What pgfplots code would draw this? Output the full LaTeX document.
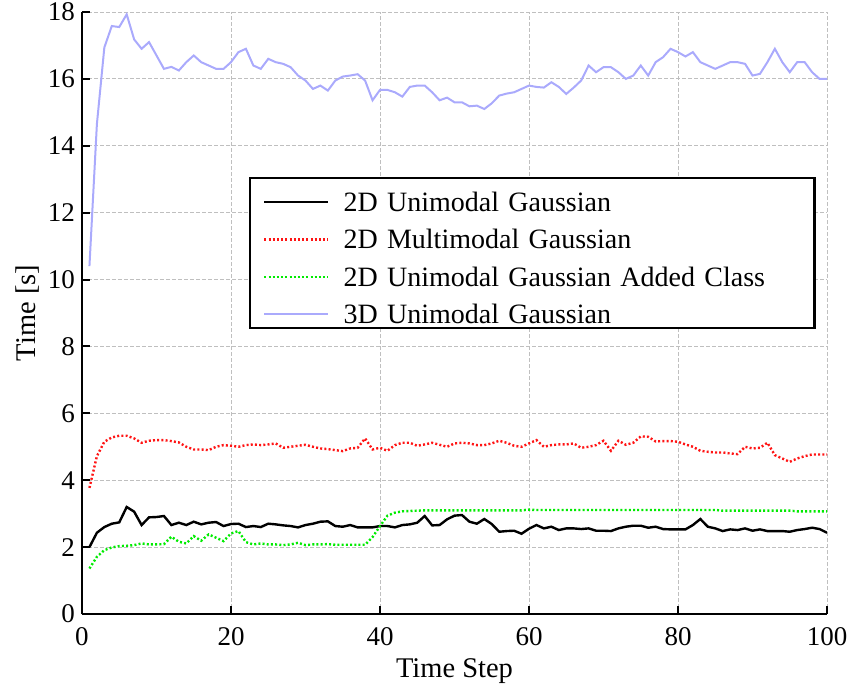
\documentclass[border=0pt]{standalone}
\usepackage{fontspec}
\setmainfont{Liberation Serif}
\usepackage{pgfplots}
\pgfplotsset{compat=1.18}
\definecolor{bluel}{RGB}{170,170,252}
\definecolor{greenl}{RGB}{0,235,0}
\definecolor{redl}{RGB}{255,20,20}
\begin{document}
\begin{tikzpicture}
\begin{axis}[
  at={(0,0)}, anchor=south west,
  scale only axis, width=745pt, height=602pt,
  xmin=0, xmax=100, ymin=0, ymax=18,
  xtick={0,20,40,60,80,100},
  ytick={0,2,4,6,8,10,12,14,16,18},
  axis x line=bottom, axis y line=left,
  axis line style={-, line width=2.4pt, black},
  tick align=inside, major tick length=8pt,
  tick style={line width=2pt, black},
  grid=major,
  major grid style={gray!50, line width=0.9pt, dash pattern=on 4pt off 2pt},
  /pgf/number format/assume math mode=true,
  tick label style={font=\fontsize{27}{30}\selectfont},
  xticklabel style={anchor=base, yshift=-31pt, inner sep=0pt},
  yticklabel style={anchor=east, inner sep=0pt, xshift=-7pt},
  xlabel={Time Step}, ylabel={Time [s]},
  label style={font=\fontsize{28.5}{32}\selectfont},
  xlabel style={at={(axis description cs:0.5,-0.1063)}, anchor=base, inner sep=0pt},
  ylabel style={at={(axis description cs:-0.0725,0.5)}, anchor=center, rotate=0, inner sep=0pt},
  legend style={at={(axis description cs:0.2242,0.7259)}, anchor=north west,
    draw=black, line width=2.2pt, fill=white,
    font=\fontsize{28}{32}\selectfont,
    inner xsep=13pt, inner ysep=0pt, row sep=0pt, column sep=14pt,
    nodes={inner sep=0pt, text height=33pt, text depth=4.5pt, text width=458pt, align=left}},
  legend cell align=left,
  legend image code/.code={\draw[#1] (0pt,-5pt) -- (64pt,-5pt);},
]
\addplot[black, line width=2.4pt] coordinates {
(1,2.0)(2,2.43)(3,2.6)(4,2.7)(5,2.74)(6,3.2)(7,3.06)(8,2.66)(9,2.89)(10,2.9)
(11,2.93)(12,2.66)(13,2.73)(14,2.66)(15,2.76)(16,2.68)(17,2.73)(18,2.75)(19,2.63)(20,2.69)
(21,2.7)(22,2.6)(23,2.63)(24,2.6)(25,2.7)(26,2.68)(27,2.65)(28,2.63)(29,2.59)(30,2.66)
(31,2.7)(32,2.76)(33,2.77)(34,2.63)(35,2.61)(36,2.66)(37,2.59)(38,2.59)(39,2.59)(40,2.63)
(41,2.63)(42,2.59)(43,2.66)(44,2.68)(45,2.73)(46,2.93)(47,2.65)(48,2.66)(49,2.83)(50,2.94)
(51,2.96)(52,2.76)(53,2.7)(54,2.84)(55,2.69)(56,2.46)(57,2.48)(58,2.49)(59,2.4)(60,2.55)
(61,2.66)(62,2.56)(63,2.61)(64,2.51)(65,2.56)(66,2.56)(67,2.54)(68,2.56)(69,2.49)(70,2.49)
(71,2.48)(72,2.56)(73,2.61)(74,2.64)(75,2.64)(76,2.58)(77,2.61)(78,2.54)(79,2.53)(80,2.53)
(81,2.53)(82,2.66)(83,2.84)(84,2.61)(85,2.56)(86,2.48)(87,2.53)(88,2.51)(89,2.56)(90,2.49)
(91,2.53)(92,2.48)(93,2.48)(94,2.48)(95,2.46)(96,2.51)(97,2.54)(98,2.58)(99,2.54)(100,2.43)
};
\addlegendentry{2D Unimodal Gaussian}
\addplot[redl, line width=2.4pt, dash pattern=on 2pt off 2.2pt] coordinates {
(1,3.77)(2,4.72)(3,5.15)(4,5.28)(5,5.33)(6,5.33)(7,5.25)(8,5.12)(9,5.18)(10,5.2)
(11,5.2)(12,5.17)(13,5.13)(14,5.0)(15,4.92)(16,4.92)(17,4.9)(18,5.0)(19,5.05)(20,5.03)
(21,5.0)(22,5.05)(23,5.07)(24,5.05)(25,5.07)(26,5.1)(27,4.97)(28,5.0)(29,5.03)(30,5.06)
(31,5.0)(32,4.95)(33,4.93)(34,4.9)(35,4.87)(36,4.95)(37,4.97)(38,5.25)(39,4.92)(40,4.97)
(41,4.88)(42,5.05)(43,5.12)(44,5.12)(45,5.03)(46,5.07)(47,5.12)(48,5.06)(49,5.0)(50,5.1)
(51,5.12)(52,5.1)(53,5.05)(54,5.05)(55,5.1)(56,5.18)(57,5.12)(58,5.03)(59,5.0)(60,5.1)
(61,5.2)(62,5.0)(63,5.05)(64,5.07)(65,5.07)(66,5.1)(67,4.97)(68,5.0)(69,5.05)(70,5.18)
(71,4.88)(72,5.18)(73,5.06)(74,5.12)(75,5.31)(76,5.3)(77,5.16)(78,5.17)(79,5.17)(80,5.15)
(81,5.07)(82,5.0)(83,4.88)(84,4.85)(85,4.83)(86,4.83)(87,4.8)(88,4.78)(89,5.0)(90,4.95)
(91,4.97)(92,5.12)(93,4.75)(94,4.65)(95,4.55)(96,4.65)(97,4.72)(98,4.77)(99,4.77)(100,4.77)
};
\addlegendentry{2D Multimodal Gaussian}
\addplot[greenl, line width=2.4pt, dash pattern=on 2pt off 2.2pt] coordinates {
(1,1.36)(2,1.71)(3,1.91)(4,1.99)(5,2.03)(6,2.04)(7,2.06)(8,2.11)(9,2.08)(10,2.08)
(11,2.09)(12,2.31)(13,2.16)(14,2.11)(15,2.33)(16,2.19)(17,2.38)(18,2.28)(19,2.18)(20,2.41)
(21,2.48)(22,2.15)(23,2.08)(24,2.11)(25,2.08)(26,2.08)(27,2.06)(28,2.08)(29,2.13)(30,2.06)
(31,2.08)(32,2.08)(33,2.09)(34,2.07)(35,2.07)(36,2.07)(37,2.07)(38,2.07)(39,2.3)(40,2.63)
(41,2.94)(42,3.03)(43,3.07)(44,3.08)(45,3.09)(46,3.1)(47,3.1)(48,3.1)(49,3.1)(50,3.1)
(51,3.1)(52,3.1)(53,3.1)(54,3.1)(55,3.1)(56,3.1)(57,3.1)(58,3.1)(59,3.1)(60,3.12)
(61,3.11)(62,3.11)(63,3.11)(64,3.11)(65,3.11)(66,3.11)(67,3.11)(68,3.11)(69,3.11)(70,3.11)
(71,3.11)(72,3.11)(73,3.11)(74,3.11)(75,3.11)(76,3.11)(77,3.11)(78,3.11)(79,3.11)(80,3.11)
(81,3.11)(82,3.11)(83,3.11)(84,3.11)(85,3.11)(86,3.09)(87,3.09)(88,3.09)(89,3.09)(90,3.09)
(91,3.09)(92,3.09)(93,3.09)(94,3.09)(95,3.09)(96,3.07)(97,3.07)(98,3.07)(99,3.07)(100,3.07)
};
\addlegendentry{2D Unimodal Gaussian Added Class}
\addplot[bluel, line width=2pt] coordinates {
(1,10.4)(2,14.65)(3,16.94)(4,17.58)(5,17.55)(6,17.93)(7,17.18)(8,16.9)(9,17.1)(10,16.7)
(11,16.3)(12,16.36)(13,16.25)(14,16.5)(15,16.7)(16,16.5)(17,16.4)(18,16.3)(19,16.3)(20,16.5)
(21,16.8)(22,16.9)(23,16.4)(24,16.3)(25,16.6)(26,16.5)(27,16.45)(28,16.35)(29,16.1)(30,15.95)
(31,15.7)(32,15.8)(33,15.65)(34,15.95)(35,16.07)(36,16.1)(37,16.14)(38,15.95)(39,15.36)(40,15.67)
(41,15.67)(42,15.6)(43,15.47)(44,15.76)(45,15.8)(46,15.8)(47,15.6)(48,15.36)(49,15.44)(50,15.3)
(51,15.3)(52,15.18)(53,15.2)(54,15.1)(55,15.27)(56,15.5)(57,15.56)(58,15.6)(59,15.7)(60,15.8)
(61,15.76)(62,15.74)(63,15.9)(64,15.76)(65,15.55)(66,15.74)(67,15.95)(68,16.4)(69,16.2)(70,16.35)
(71,16.35)(72,16.2)(73,16.0)(74,16.1)(75,16.4)(76,16.1)(77,16.5)(78,16.65)(79,16.9)(80,16.8)
(81,16.67)(82,16.8)(83,16.5)(84,16.4)(85,16.3)(86,16.4)(87,16.5)(88,16.5)(89,16.45)(90,16.1)
(91,16.15)(92,16.5)(93,16.9)(94,16.5)(95,16.2)(96,16.5)(97,16.5)(98,16.2)(99,16.0)(100,16.0)
};
\addlegendentry{3D Unimodal Gaussian}
\end{axis}
\pgfresetboundingbox
\path[use as bounding box] (-82pt,-75pt) rectangle (769pt,614pt);
\end{tikzpicture}
\end{document}
